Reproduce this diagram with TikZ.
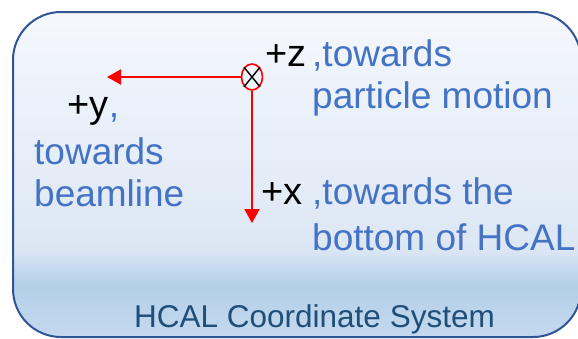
\documentclass[tikz,border=0pt]{standalone}
\usepackage{fontspec}
\setmainfont{Liberation Sans}
\usetikzlibrary{arrows.meta,shapes.geometric}

\definecolor{hcalblue}{HTML}{4472C4}
\definecolor{titleblue}{HTML}{1F4E79}
\definecolor{rimblue}{HTML}{2F5597}
\definecolor{bgtop}{HTML}{F5F8FD}
\definecolor{bgmid}{HTML}{DCE7F4}
\definecolor{bgband}{HTML}{B4CFE9}
\definecolor{bgbot}{HTML}{C4D9EE}
\definecolor{axred}{HTML}{FF0000}

\pgfdeclareverticalshading{hcalfill}{100bp}{color(0bp)=(bgbot); color(25bp)=(bgbot);
  color(33bp)=(bgband); color(38.5bp)=(bgmid); color(75bp)=(bgtop); color(100bp)=(bgtop)}

\tikzset{
  axis/.style={draw=axred, line width=2pt, -{Triangle[length=14pt,width=15pt]}},
  blk/.style={inner sep=0pt, anchor=base west, text=black, font=\fontsize{38}{42}\selectfont},
  note/.style={inner sep=0pt, anchor=base west, text=hcalblue, font=\fontsize{37}{42}\selectfont}
}

\begin{document}
\begin{tikzpicture}[x=1pt,y=-1pt]
\useasboundingbox (0,0) rectangle (578,338);
\clip (0,0) rectangle (578,338);

% BOX
\draw[rimblue, line width=2pt, rounded corners=48pt, shading=hcalfill]
  (13,12) rectangle (581,337);

% ORIGIN
\node (zc) [ellipse, draw=axred, line width=1.6pt, minimum width=21pt,
  minimum height=26pt, inner sep=0pt] at (252,77) {};
\draw[line width=1.4pt] (zc.north east) -- (zc.south west);
\draw[line width=1.4pt] (zc.north west) -- (zc.south east);

\coordinate (ytip) at (107,77);
\coordinate (xtip) at (252,223);

% ARROWS
\draw[axis] (zc.west) -- (ytip);
\draw[axis] (zc.south) -- (xtip);

% NOTES
\node (zlab) [blk] at (265,66) {+z};
\node (zn1) [note] at (312,66) {,towards};
\node (zn2) [note] at (312,108) {particle motion};

\node (ylab) [blk] at (67,117) {+y};
\node (ycom) [note] at (ylab.base east) {,};
\node (yn1) [note] at (34,164) {towards};
\node (yn2) [note] at (34,206) {beamline};

\node (xlab) [blk] at (261,204) {+x};
\node (xn1) [note] at (312,204) {,towards the};
\node (xn2) [note] at (312,250) {bottom of HCAL};

\node (title) [inner sep=0pt, anchor=base west, text=titleblue,
  font=\fontsize{31.5}{36}\selectfont] at (134,327) {HCAL Coordinate System};

\end{tikzpicture}
\end{document}
